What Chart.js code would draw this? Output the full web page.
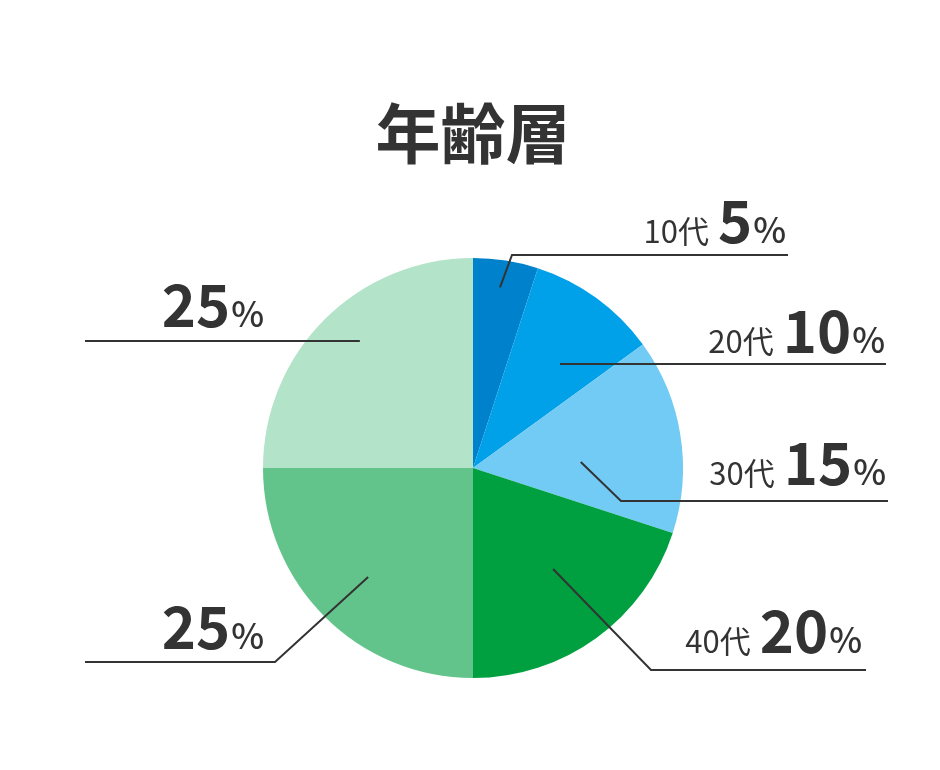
<!DOCTYPE html>
<html>
<head>
<meta charset="utf-8">
<script src="https://cdn.jsdelivr.net/npm/chart.js@4/dist/chart.umd.min.js"></script>
<style>
  html, body { margin: 0; padding: 0; background: #ffffff; }
  #wrap { width: 940px; height: 770px; }
</style>
</head>
<body>
<div id="wrap"><canvas id="c" width="940" height="770"></canvas></div>
<script>
// ---- data ----
const chartTitle = '年齢層';
const categories = ['10代', '20代', '30代', '40代', '', ''];
const values = [5, 10, 15, 20, 25, 25];
const sliceColors = ['#0081CC', '#00A1E9', '#72CBF5', '#00A040', '#63C48B', '#B3E3C8'];

// ---- label layout (styling/positions, not data) ----
const FONT = '"Noto Sans CJK JP", "Noto Sans", sans-serif';
const labelLayout = [
  { dDeg: -0.5, r: 0.87, path: [[512, 255], [788, 255]], textRight: 786, baseline: 243 },
  { dDeg: 3.9, r: 0.646, path: [[886, null]], textRight: 885, baseline: 353 },
  { dDeg: 5.8, r: 0.514, path: [[621, 501], [888, 501]], textRight: 886, baseline: 485 },
  { dDeg: -2.4, r: 0.614, path: [[651, 670], [866, 670]], textRight: 862, baseline: 653 },
  { dDeg: -1.1, r: 0.72, path: [[275, 662], [85, 662]], textRight: 264, baseline: 649 },
  { dDeg: 3.3, r: 0.81, path: [[85, null]], textRight: 264, baseline: 327 }
];

const leaderPlugin = {
  id: 'leaders',
  afterDatasetsDraw(chart) {
    const ctx = chart.ctx;
    const meta = chart.getDatasetMeta(0);
    ctx.save();
    meta.data.forEach((arc, i) => {
      const L = labelLayout[i];
      const p = arc.getProps(['x', 'y', 'startAngle', 'endAngle', 'outerRadius'], true);
      const a = (p.startAngle + p.endAngle) / 2 + L.dDeg * Math.PI / 180;
      const ax = p.x + Math.cos(a) * p.outerRadius * L.r;
      const ay = p.y + Math.sin(a) * p.outerRadius * L.r;
      ctx.beginPath();
      ctx.strokeStyle = '#333333';
      ctx.lineWidth = 2;
      ctx.moveTo(ax, ay);
      L.path.forEach(pt => ctx.lineTo(pt[0], pt[1] === null ? ay : pt[1]));
      ctx.stroke();

      // text, right to left
      ctx.fillStyle = '#333333';
      ctx.textBaseline = 'alphabetic';
      ctx.textAlign = 'right';
      let x = L.textRight;
      ctx.font = '500 35px ' + FONT;
      ctx.fillText('%', x, L.baseline);
      x -= ctx.measureText('%').width + 1;
      ctx.font = 'bold 58px ' + FONT;
      const num = String(values[i]);
      ctx.fillText(num, x, L.baseline);
      x -= ctx.measureText(num).width + 9;
      if (categories[i]) {
        ctx.font = '400 31px ' + FONT;
        ctx.fillText(categories[i], x, L.baseline);
      }
    });
    ctx.restore();
  }
};

new Chart(document.getElementById('c'), {
  type: 'pie',
  data: {
    labels: categories,
    datasets: [{
      data: values,
      backgroundColor: sliceColors,
      borderWidth: 0,
      hoverOffset: 0
    }]
  },
  options: {
    responsive: false,
    animation: false,
    events: [],
    layout: { padding: { left: 6, right: 0, top: 0, bottom: 92 } },
    plugins: {
      legend: { display: false },
      tooltip: { enabled: false },
      title: {
        display: true,
        text: chartTitle,
        color: '#333333',
        font: { family: FONT, size: 65, weight: 'bold', lineHeight: 1.2 },
        padding: { top: 94, bottom: 86 }
      }
    }
  },
  plugins: [leaderPlugin]
});
</script>
</body>
</html>
